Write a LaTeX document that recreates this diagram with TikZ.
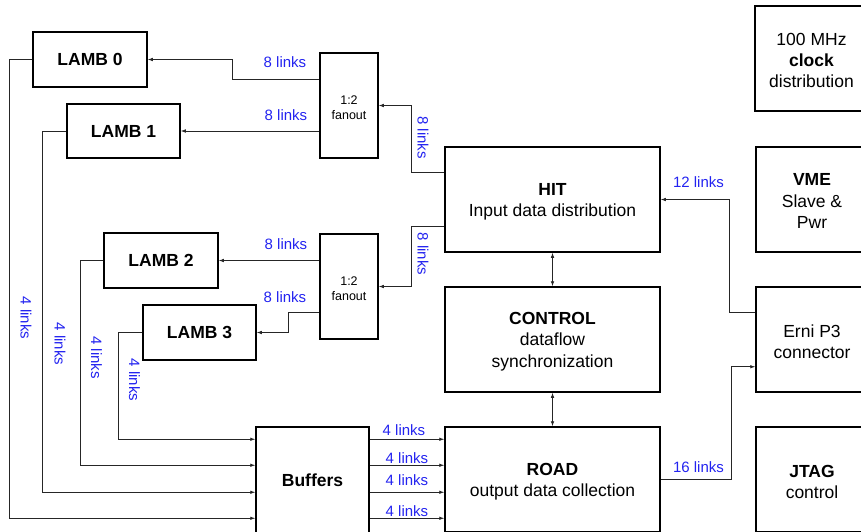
\documentclass[tikz,border=0pt]{standalone}
\usepackage{fontspec}
\setmainfont{Liberation Sans}
\usetikzlibrary{arrows.meta}
\definecolor{linkblue}{RGB}{35,35,240}
\newcommand\mfs{\fontsize{17.5}{21.3}\selectfont}
\newcommand\lfs{\fontsize{15}{18}\selectfont}
\newcommand\ffs{\fontsize{12.5}{15}\selectfont}
\newcommand\tpst{\rule{0pt}{16.5pt}}
\newcommand\fpst{\rule{0pt}{13pt}}
\begin{document}
\begin{tikzpicture}[x=1pt,y=-1pt,
  box/.style={draw, line width=1.5pt, inner sep=0pt, align=center, font=\mfs},
  fan/.style={draw, line width=1.5pt, inner sep=0pt, align=center, font=\ffs, minimum width=58pt, minimum height=105pt},
  conn/.style={line width=0.8pt, black!85, -{Latex[length=5pt,width=3.6pt]}},
  dconn/.style={line width=0.8pt, black!85, {Latex[length=5pt,width=3.6pt]}-{Latex[length=5pt,width=3.6pt]}},
  lbl/.style={text=linkblue, font=\lfs, inner sep=0pt},
  vlbl/.style={text=linkblue, font=\lfs, inner sep=0pt, rotate=-90}]
\useasboundingbox (0,0) rectangle (861,531);
\clip (0,0) rectangle (861,531);
% boxes
\node[box, font=\mfs\bfseries, minimum width=114pt, minimum height=55pt] (L0) at (90,59.5) {LAMB 0};
\node[box, font=\mfs\bfseries, minimum width=113pt, minimum height=54pt] (L1) at (123.5,131) {LAMB 1};
\node[box, font=\mfs\bfseries, minimum width=114pt, minimum height=55pt] (L2) at (161,260.5) {LAMB 2};
\node[box, font=\mfs\bfseries, minimum width=113pt, minimum height=55pt] (L3) at (199.5,332.5) {LAMB 3};
\node[fan] (F1) at (349,105.5) {\fpst 1:2\\fanout};
\node[fan] (F2) at (349,286.5) {\fpst 1:2\\fanout};
\node[box, minimum width=215pt, minimum height=105pt] (HIT) at (552.5,199.5) {\tpst\textbf{HIT}\\Input data distribution};
\node[box, minimum width=215pt, minimum height=105pt] (CTRL) at (552.5,339.5) {\tpst\textbf{CONTROL}\\dataflow\\synchronization};
\node[box, minimum width=215pt, minimum height=105pt] (ROAD) at (552.5,479.5) {\tpst\textbf{ROAD}\\output data collection};
\node[box, font=\mfs\bfseries, minimum width=113pt, minimum height=106pt] (BUF) at (312.5,480) {Buffers};
\node[box, minimum width=113pt, minimum height=105pt] (CLK) at (811.5,58.5) {\tpst 100 MHz\\\textbf{clock}\\distribution};
\node[box, minimum width=112pt, minimum height=105pt] (VME) at (812,199.5) {\rule{0pt}{15pt}\textbf{VME}\\Slave \&\\Pwr};
\node[box, minimum width=112pt, minimum height=105pt] (ERNI) at (812,339.5) {\tpst Erni P3\\connector};
\node[box, minimum width=112pt, minimum height=105pt] (JTAG) at (812,479.5) {\tpst\textbf{JTAG}\\control};
% fanout -> LAMB
\draw[conn] ([yshift=-27pt]F1.north west) -- ++(-87,0) |- (L0.east);
\draw[conn] (F1.west |- L1.east) -- (L1.east);
\draw[conn] (F2.west |- L2.east) -- (L2.east);
\draw[conn] ([yshift=-79pt]F2.north west) -- ++(-31,0) |- (L3.east);
% HIT -> fanout
\draw[conn] ([yshift=-26pt]HIT.north west) -- ++(-33,0) |- (F1.east);
\draw[conn] ([yshift=26pt]HIT.south west) -- ++(-33,0) |- (F2.east);
% LAMB -> Buffers
\draw[conn] (L0.west) -- ++(-23,0) |- ([yshift=-92pt]BUF.north west);
\draw[conn] (L1.west) -- ++(-24,0) |- ([yshift=-66pt]BUF.north west);
\draw[conn] (L2.west) -- ++(-23,0) |- ([yshift=-39pt]BUF.north west);
\draw[conn] (L3.west) -- ++(-24,0) |- ([yshift=-13pt]BUF.north west);
% Buffers -> ROAD
\draw[conn] ([yshift=-13pt]BUF.north east) -- ([yshift=-13pt]ROAD.north west);
\draw[conn] ([yshift=-39pt]BUF.north east) -- ([yshift=-39pt]ROAD.north west);
\draw[conn] ([yshift=-66pt]BUF.north east) -- ([yshift=-66pt]ROAD.north west);
\draw[conn] ([yshift=-92pt]BUF.north east) -- ([yshift=-92pt]ROAD.north west);
% vertical
\draw[dconn] (HIT.south) -- (CTRL.north);
\draw[dconn] (CTRL.south) -- (ROAD.north);
% Erni
\draw[conn] ([yshift=-26pt]ERNI.north west) -- ++(-26,0) |- (HIT.east);
\draw[conn] (ROAD.east) -- ++(71,0) |- ([yshift=26pt]ERNI.south west);
% labels
\node[lbl] (t1) at (285,62.5) {8 links};
\node[lbl] (t2) at (286,115.5) {8 links};
\node[lbl] (t3) at (286,244) {8 links};
\node[lbl] (t4) at (285,297.5) {8 links};
\node[vlbl] (t5) at (423,137.5) {8 links};
\node[vlbl] (t6) at (423,254) {8 links};
\node[vlbl] (t7) at (26,318) {4 links};
\node[vlbl] (t8) at (60,344) {4 links};
\node[vlbl] (t9) at (96.5,357.5) {4 links};
\node[vlbl] (t10) at (134.5,380) {4 links};
\node[lbl] (t11) at (404,430) {4 links};
\node[lbl] (t12) at (407,458.5) {4 links};
\node[lbl] (t13) at (407,480.5) {4 links};
\node[lbl] (t14) at (407,511.5) {4 links};
\node[lbl] (t15) at (698.5,182.5) {12 links};
\node[lbl] (t16) at (698.5,467.5) {16 links};
\end{tikzpicture}
\end{document}
